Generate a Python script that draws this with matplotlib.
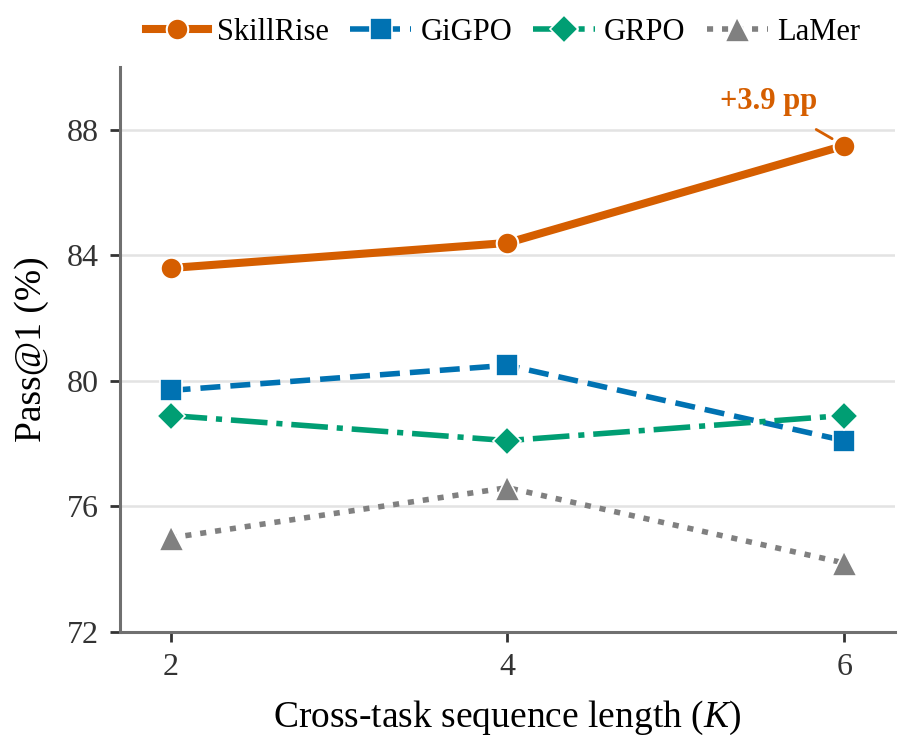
import numpy as np
import matplotlib.pyplot as plt

plt.rcParams['font.family'] = ['Liberation Serif', 'DejaVu Serif']
plt.rcParams['mathtext.fontset'] = 'custom'
plt.rcParams['mathtext.it'] = 'Liberation Serif:italic'
plt.rcParams['mathtext.rm'] = 'Liberation Serif'

k_values = [2, 4, 6]
skillrise = [83.6, 84.4, 87.5]
gigpo = [79.7, 80.5, 78.1]
grpo = [78.9, 78.1, 78.9]
lamer = [75.0, 76.6, 74.2]
yticks = [72, 76, 80, 84, 88]
gain_label = '+3.9 pp'

fig = plt.figure(figsize=(9.05, 7.53), dpi=100)
ax = fig.add_axes([0.1326, 0.1607, 0.856, 0.75])

ax.plot(k_values, skillrise, color='#D55E00', lw=5.8, ls='-', marker='o', ms=15.5,
        mec='white', mew=1.5, label='SkillRise', zorder=5)
ax.plot(k_values, gigpo, color='#0072B2', lw=4, ls=(0, (3.6, 1.8)), marker='s', ms=16,
        mec='white', mew=1.2, label='GiGPO', zorder=4)
ax.plot(k_values, grpo, color='#009E73', lw=4, ls=(0, (6.6, 1.6, 1.1, 1.6)), marker='D', ms=14,
        mec='white', mew=1.2, label='GRPO', zorder=4)
ax.plot(k_values, lamer, color='#808080', lw=4, ls=(0, (1.1, 1.6)), marker='^', ms=18,
        mec='white', mew=1.2, label='LaMer', zorder=4)

ax.annotate(gain_label, xy=(k_values[-1], skillrise[-1]), xytext=(5.55, 88.9),
            ha='center', va='center', fontsize=22, fontweight='bold', color='#D55E00',
            arrowprops=dict(arrowstyle='-', color='#D55E00', lw=2, shrinkA=15, shrinkB=10))

ax.set_xlim(1.7, 6.3)
ax.set_ylim(72, 90)
ax.set_xticks(k_values)
ax.set_yticks(yticks)
ax.yaxis.grid(True, color='#e3e3e3', lw=1.8)
ax.set_axisbelow(True)
for s in ['top', 'right']:
    ax.spines[s].set_visible(False)
for s in ['left', 'bottom']:
    ax.spines[s].set_color('#707070')
    ax.spines[s].set_linewidth(2.2)
ax.tick_params(axis='both', labelsize=23, color='#333333', labelcolor='#333333',
               length=7, width=2, pad=8)
ax.set_xlabel('Cross-task sequence length ($K$)', fontsize=27, labelpad=12)
ax.set_ylabel('Pass@1 (%)', fontsize=27, labelpad=13)

fig.legend(loc='center', bbox_to_anchor=(0.556, 0.957), ncol=4, frameon=False,
           fontsize=22, handlelength=2.0, columnspacing=0.7, handletextpad=0.3)

fig.savefig('out.png', dpi=100)
